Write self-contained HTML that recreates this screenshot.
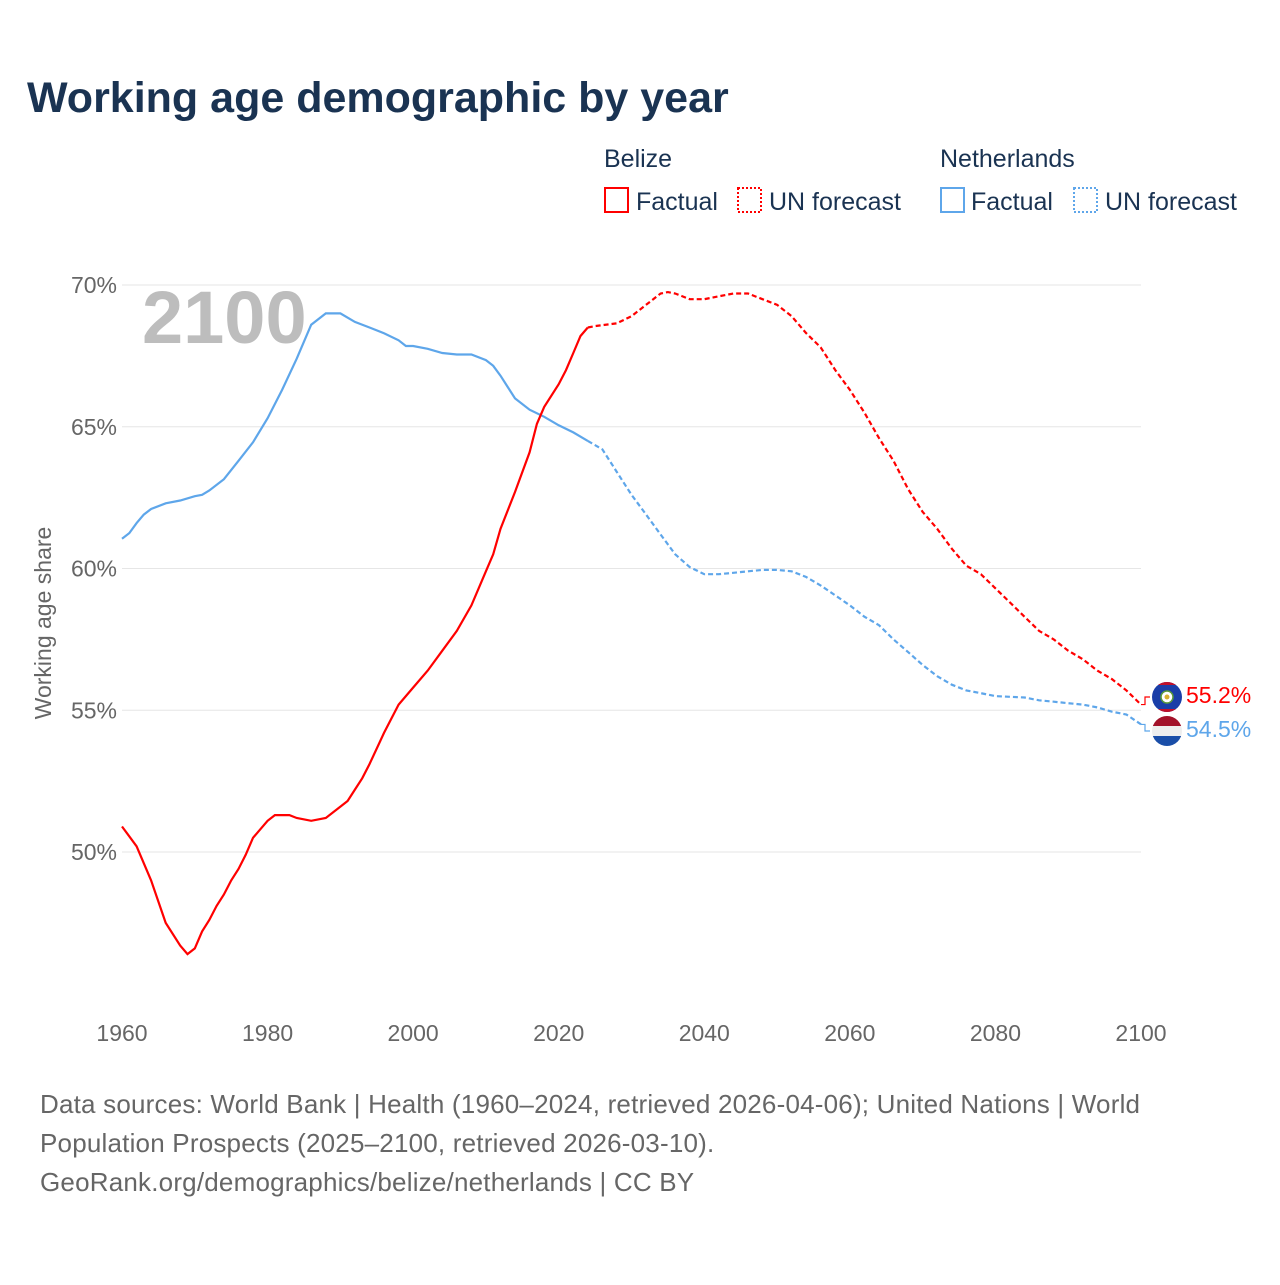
<!DOCTYPE html>
<html><head><meta charset="utf-8"><style>
body{margin:0;background:#fff;font-family:"Liberation Sans",sans-serif}
svg text{font-family:"Liberation Sans",sans-serif}
</style></head><body>
<svg id="c" width="1280" height="1280" xmlns="http://www.w3.org/2000/svg">
<text x="27" y="112" font-size="43" font-weight="bold" fill="#1a3352">Working age demographic by year</text>
<g font-size="25" fill="#1a3352">
<text x="604" y="167">Belize</text>
<text x="940" y="167">Netherlands</text>
<rect x="605" y="188" width="23" height="24" fill="none" stroke="#f00" stroke-width="2"/>
<text x="636" y="210">Factual</text>
<rect x="738" y="188" width="23" height="24" fill="none" stroke="#f00" stroke-width="2" stroke-dasharray="2,2"/>
<text x="769" y="210">UN forecast</text>
<rect x="941" y="188" width="23" height="24" fill="none" stroke="#5ea6ea" stroke-width="2"/>
<text x="971" y="210">Factual</text>
<rect x="1074" y="188" width="23" height="24" fill="none" stroke="#5ea6ea" stroke-width="2" stroke-dasharray="2,2"/>
<text x="1105" y="210">UN forecast</text>
</g>
<g id="grid"></g>
<text x="142" y="343" font-size="74" font-weight="bold" fill="#bdbdbd">2100</text>
<text transform="translate(51,623) rotate(-90)" text-anchor="middle" font-size="23" fill="#666">Working age share</text>
<g id="series"></g>
<g>
<clipPath id="bzc"><circle cx="1167" cy="697" r="15"/></clipPath>
<g clip-path="url(#bzc)">
<rect x="1152" y="682" width="30" height="30" fill="#1a3ea8"/>
<rect x="1152" y="682" width="30" height="3" fill="#c0102a"/>
<rect x="1152" y="709" width="30" height="3" fill="#c0102a"/>
<circle cx="1167" cy="697" r="6" fill="#fff" stroke="#5a9a3a" stroke-width="1.5"/>
<circle cx="1167" cy="697" r="2.5" fill="#d8b030"/>
</g>
<clipPath id="nlc"><circle cx="1167" cy="731" r="15"/></clipPath>
<g clip-path="url(#nlc)">
<rect x="1152" y="716" width="30" height="10" fill="#a3122a"/>
<rect x="1152" y="726" width="30" height="10" fill="#eee"/>
<rect x="1152" y="736" width="30" height="10" fill="#1a4ea8"/>
</g>
<text x="1186" y="703" font-size="23" fill="#f00">55.2%</text>
<text x="1186" y="737" font-size="23" fill="#5ea6ea">54.5%</text>
</g>
<g font-size="26" fill="#666" letter-spacing="0.2">
<text x="40" y="1113">Data sources: World Bank | Health (1960–2024, retrieved 2026-04-06); United Nations | World</text>
<text x="40" y="1152">Population Prospects (2025–2100, retrieved 2026-03-10).</text>
<text x="40" y="1191">GeoRank.org/demographics/belize/netherlands | CC BY</text>
</g>
</svg>
<script>
const yTicks=[50,55,60,65,70];
const xTicks=[1960,1980,2000,2020,2040,2060,2080,2100];
const bzFactYears=[1960,1962,1964,1966,1968,1969,1970,1971,1972,1973,1974,1975,1976,1977,1978,1979,1980,1981,1982,1983,1984,1986,1988,1990,1991,1992,1993,1994,1996,1998,2000,2002,2004,2006,2008,2010,2011,2012,2014,2016,2017,2018,2020,2021,2022,2023,2024];
const bzFact=[50.9,50.2,49.0,47.5,46.7,46.4,46.6,47.2,47.6,48.1,48.5,49.0,49.4,49.9,50.5,50.8,51.1,51.3,51.3,51.3,51.2,51.1,51.2,51.6,51.8,52.2,52.6,53.1,54.2,55.2,55.8,56.4,57.1,57.8,58.7,59.9,60.5,61.4,62.7,64.1,65.1,65.7,66.5,67.0,67.6,68.2,68.5];
const bzFcYears=[2024,2025,2028,2030,2032,2034,2035,2036,2038,2040,2042,2044,2046,2048,2050,2052,2054,2056,2058,2060,2062,2064,2066,2068,2070,2072,2074,2076,2078,2080,2082,2084,2086,2088,2090,2092,2094,2096,2098,2100];
const bzFc=[68.5,68.55,68.65,68.9,69.3,69.7,69.75,69.7,69.5,69.5,69.6,69.7,69.7,69.5,69.3,68.9,68.3,67.8,67.0,66.3,65.5,64.6,63.8,62.8,62.0,61.4,60.7,60.1,59.8,59.3,58.8,58.3,57.8,57.5,57.1,56.8,56.4,56.1,55.7,55.2];
const nlFactYears=[1960,1961,1962,1963,1964,1966,1968,1970,1971,1972,1974,1976,1978,1980,1982,1984,1986,1988,1990,1992,1994,1996,1998,1999,2000,2002,2004,2006,2008,2010,2011,2012,2013,2014,2016,2018,2020,2022,2024];
const nlFact=[61.05,61.25,61.6,61.9,62.1,62.3,62.4,62.55,62.6,62.75,63.15,63.8,64.45,65.3,66.3,67.4,68.6,69.0,69.0,68.7,68.5,68.3,68.05,67.85,67.85,67.75,67.6,67.55,67.55,67.35,67.15,66.8,66.4,66.0,65.6,65.35,65.05,64.8,64.5];
const nlFcYears=[2024,2026,2028,2030,2032,2034,2036,2038,2040,2042,2044,2046,2048,2050,2052,2054,2056,2058,2060,2062,2064,2066,2068,2070,2072,2074,2076,2078,2080,2084,2086,2088,2090,2092,2094,2096,2098,2100];
const nlFc=[64.5,64.2,63.4,62.6,61.9,61.2,60.5,60.05,59.8,59.8,59.85,59.9,59.95,59.95,59.9,59.7,59.4,59.05,58.7,58.3,58.0,57.5,57.05,56.6,56.2,55.9,55.7,55.6,55.5,55.45,55.35,55.3,55.25,55.2,55.1,54.95,54.85,54.5];
const NS="http://www.w3.org/2000/svg";
const X=y=>122+(y-1960)*(1141-122)/140;
const Y=v=>852-(v-50)*(852-285)/20;
const grid=document.getElementById('grid');
yTicks.forEach(t=>{
 const l=document.createElementNS(NS,'line');
 l.setAttribute('x1',122);l.setAttribute('x2',1141);l.setAttribute('y1',Y(t));l.setAttribute('y2',Y(t));
 l.setAttribute('stroke','#e6e6e6');
 
 
 grid.appendChild(l);
 const tx=document.createElementNS(NS,'text');
 tx.setAttribute('x',117);tx.setAttribute('y',Y(t)+8);tx.setAttribute('text-anchor','end');
 tx.setAttribute('font-size','23');tx.setAttribute('fill','#666');tx.textContent=t+'%';
 
 
 grid.appendChild(tx);
});
xTicks.forEach(t=>{
 const tx=document.createElementNS(NS,'text');
 tx.setAttribute('x',X(t));tx.setAttribute('y',1041);tx.setAttribute('text-anchor','middle');
 tx.setAttribute('font-size','23');tx.setAttribute('fill','#666');tx.textContent=t;
 
 
 grid.appendChild(tx);
});
const ser=document.getElementById('series');
function line(xs,vs,color,dash,name){
 const p=document.createElementNS(NS,'path');
 p.setAttribute('d',xs.map((x,i)=>(i?'L':'M')+X(x).toFixed(1)+','+Y(vs[i]).toFixed(1)).join(''));
 p.setAttribute('fill','none');p.setAttribute('stroke',color);p.setAttribute('stroke-width','2.2');
 if(dash)p.setAttribute('stroke-dasharray',dash);
 
 
 ser.appendChild(p);
}
line(nlFactYears,nlFact,'#5ea6ea',null,'netherlands-factual-line');
line(nlFcYears,nlFc,'#5ea6ea','5,3','netherlands-forecast-line');
line(bzFactYears,bzFact,'#f00',null,'belize-factual-line');
line(bzFcYears,bzFc,'#f00','5,3','belize-forecast-line');
function conn(v,ly,color,name){
 const p=document.createElementNS(NS,'path');
 p.setAttribute('d','M'+X(2100)+','+Y(v)+'L1145,'+Y(v)+'L1145,'+ly+'L1150,'+ly);
 p.setAttribute('fill','none');p.setAttribute('stroke',color);p.setAttribute('stroke-width','1.2');
 
 
 ser.appendChild(p);
}
conn(bzFc[bzFc.length-1],697,'#f00','belize-label-connector');
conn(nlFc[nlFc.length-1],731,'#5ea6ea','netherlands-label-connector');
</script>
</body></html>
